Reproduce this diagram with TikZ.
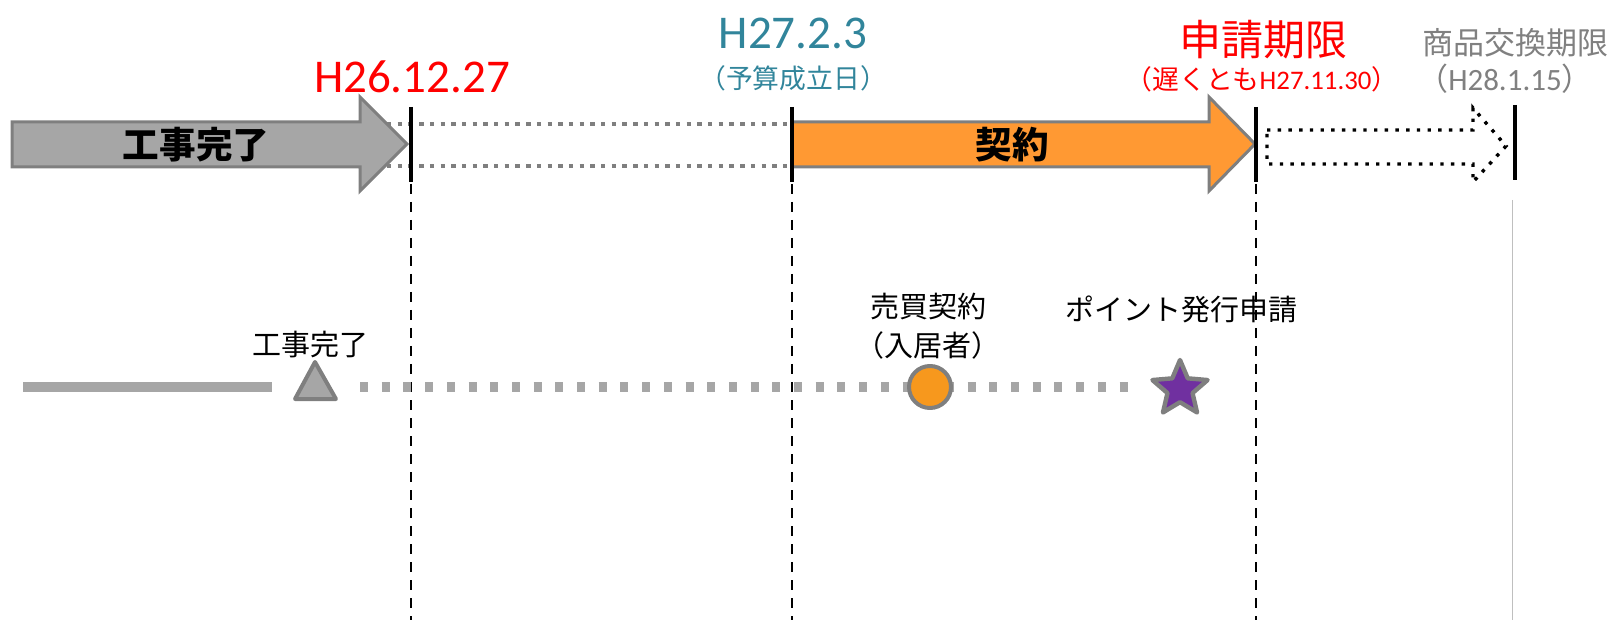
\documentclass[tikz,border=0pt]{standalone}
\usepackage{fontspec}
\setmainfont{Carlito}
\newfontfamily\jp{Noto Sans CJK JP}
\usepackage{tikz}
\usetikzlibrary{positioning,shapes.geometric}

\definecolor{datered}{RGB}{255,0,0}
\definecolor{dateteal}{RGB}{49,133,155}
\definecolor{textgray}{RGB}{128,128,128}
\definecolor{arrowgray}{RGB}{166,166,166}
\definecolor{edgegray}{RGB}{127,127,127}
\definecolor{arroworange}{RGB}{255,153,51}
\definecolor{markorange}{RGB}{247,152,29}
\definecolor{markpurple}{RGB}{112,48,160}

\begin{document}
\begin{tikzpicture}[x=0.5pt, y=-0.5pt,
    bigdate/.style={text=#1, font=\fontsize{23.5}{26}\selectfont, inner sep=0pt},
    subdate/.style={text=#1, font=\fontsize{13.4}{15}\selectfont\jp, inner sep=0pt},
    arrowtext/.style={text=black, font=\fontsize{18.3}{20}\selectfont\jp\bfseries, inner sep=0pt},
    lowlabel/.style={text=black, font=\fontsize{14.5}{17}\selectfont\jp, inner sep=0pt},
    tick/.style={black, line width=2pt},
    guide/.style={black, line width=1pt, dash pattern=on 5pt off 4pt},
    shaft/.style={edgegray, line width=2pt, dash pattern=on 2.2pt off 3.15pt},
    track/.style={arrowgray, line width=5pt},
    markshape/.style={draw=edgegray, line width=2pt, line join=round}]
    \useasboundingbox (0,0) rectangle (1612,620);

    \coordinate (t1) at (411,107);
    \coordinate (t2) at (792,107);
    \coordinate (t3) at (1256,107);
    \coordinate (t4) at (1515,105);

    \draw[shaft] (387,124) -- (792,124);
    \draw[shaft] (387,166) -- (792,166);

    \draw[fill=arrowgray, draw=edgegray, line width=1.5pt] (12,122) -- (360,122) -- (360,97) -- (407,144) -- (360,191) -- (360,167) -- (12,167) -- cycle;
    \draw[fill=arroworange, draw=edgegray, line width=1.5pt] (792,122) -- (1209,122) -- (1209,97) -- (1255,144) -- (1209,191) -- (1209,167) -- (792,167) -- cycle;
    \draw[black, line width=1.7pt, dash pattern=on 1.7pt off 3.65pt] (1267,130) -- (1473,130) -- (1473,108) -- (1506,146) -- (1473,182) -- (1473,164) -- (1267,164) -- cycle;

    \node[arrowtext] (workDone) at (196,145) {工事完了};
    \node[arrowtext] (contract) at (1012,145) {契約};

    \draw[tick] (t1) -- ++(0,75);
    \draw[tick] (t2) -- ++(0,75);
    \draw[tick] (t3) -- ++(0,75);
    \draw[tick] (t4) -- ++(0,75);
    \draw[guide] (t1) ++(0,77) -- ++(0,436);
    \draw[guide] (t2) ++(0,77) -- ++(0,436);
    \draw[guide] (t3) ++(0,77) -- ++(0,436);
    \draw[lightgray, line width=0.5pt] (t4) ++(-3,95) -- ++(0,420);

    \node[bigdate=datered] (completeDate) at (412,77) {H26.12.27};
    \node[bigdate=dateteal] (budgetDate) at (793,33) {H27.2.3};
    \node[subdate=dateteal] (budgetNote) at (793,78) {（予算成立日）};
    \node[text=datered, font=\fontsize{21}{24}\selectfont\jp, inner sep=0pt] (deadline) at (1263,40) {申請期限};
    \node[subdate=datered] (deadlineNote) at (1262,79) {（遅くとも\fontspec{Carlito}H27.11.30\jp ）};
    \node[text=textgray, font=\fontsize{15.5}{18}\selectfont\jp, inner sep=0pt] (exchange) at (1515,43) {商品交換期限};
    \node[subdate=textgray, font=\fontsize{15.5}{18}\selectfont\jp] (exchangeNote) at (1505,79) {（\fontspec{Carlito}H28.1.15\jp ）};

    \draw[track] (23,387) -- (272,387);
    \draw[track, dash pattern=on 4pt off 6.85pt] (360,387) -- (1137,387);
    \draw[markshape, fill=arrowgray] (315,362) -- (336,399) -- (295,399) -- cycle;
    \node[circle, markshape, fill=markorange, minimum size=21pt, inner sep=0pt] (buy) at (930,387) {};
    \node[star, star points=5, star point ratio=2.2, markshape, line width=2.2pt, fill=markpurple, minimum size=29pt, inner sep=0pt] (point) at (1180,389) {};

    \node[lowlabel] (workLabel) at (310,345) {工事完了};
    \node[lowlabel] (buyLabel) at (928,307) {売買契約};
    \node[lowlabel] (buyerLabel) at (928,345) {（入居者）};
    \node[lowlabel] (pointLabel) at (1181,309) {ポイント発行申請};
\end{tikzpicture}
\end{document}
